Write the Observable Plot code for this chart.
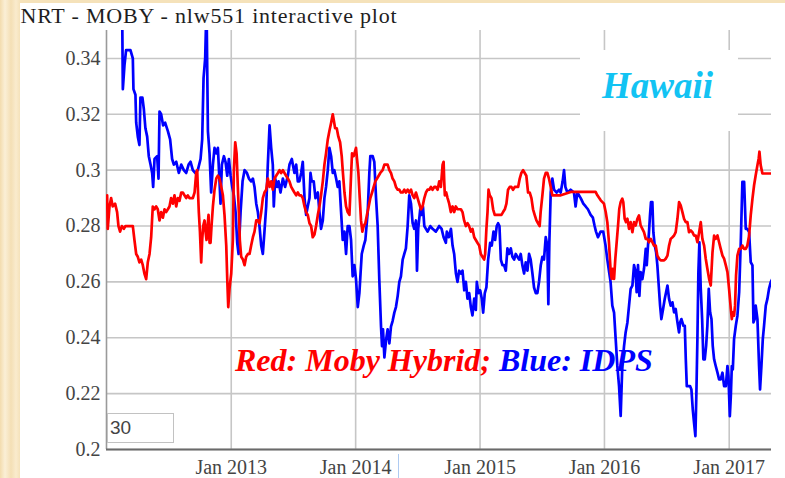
<!DOCTYPE html>
<html><head><meta charset="utf-8">
<script src="https://cdn.jsdelivr.net/npm/d3@7"></script>
<script src="https://cdn.jsdelivr.net/npm/@observablehq/plot@0.6"></script>
<style>
html,body{margin:0;padding:0;}
body{width:785px;height:478px;overflow:hidden;background:#f6e4bf;}
#wrap{position:relative;width:785px;height:478px;background:linear-gradient(90deg,#f3dcae 0,#fbefd6 5px,#f4dfb5 11px,#faebcd 16px,#f5e2ba 20px);}
#white{position:absolute;left:20px;top:3px;right:0;bottom:0;background:#fff;}
#chart{position:absolute;left:0;top:0;}
.ov{position:absolute;white-space:nowrap;line-height:1;}
.serif{font-family:"Liberation Serif","Tinos","Times New Roman","Times","DejaVu Serif",serif;}
#title{left:20.5px;top:4.5px;font-size:22px;color:#1e1e1e;letter-spacing:0.8px;}
#hbox{left:580px;top:50px;width:158px;height:81px;background:#fff;}
#hawaii{left:602px;top:67px;font-size:37px;font-style:italic;font-weight:bold;color:#12c3f3;}
#legend{left:235px;top:344px;font-size:32px;font-style:italic;font-weight:bold;}
#inbox{left:107px;top:413px;width:67px;height:30px;box-sizing:border-box;border:1.5px solid #c2c2c2;background:#fff;}
#intext{left:110px;top:418px;font-size:19px;font-family:"Liberation Sans",Arial,"DejaVu Sans",sans-serif;color:#444;}
#cursor{left:398px;top:454px;width:1px;height:24px;background:#aecbf2;}
</style>
</head><body>
<div id="wrap">
  <div id="white"></div>
  <div id="chart"></div>
  <div class="ov serif" id="title">NRT - MOBY - nlw551 interactive plot</div>
  <div class="ov" id="hbox"></div>
  <div class="ov serif" id="hawaii">Hawaii</div>
  <div class="ov serif" id="legend"><span style="color:#ff0000">Red: Moby Hybrid;</span> <span style="color:#0000ff">Blue: IDPS</span></div>
  <div class="ov" id="inbox"></div>
  <div class="ov" id="intext">30</div>
  <div class="ov" id="cursor"></div>
</div>
<script>
// decimal-year, value pairs
const idpsSeries = [[2012.125,0.36],[2012.131,0.329],[2012.144,0.3375],[2012.157,0.343],[2012.192,0.343],[2012.211,0.340],[2012.216,0.329],[2012.232,0.327],[2012.238,0.317],[2012.251,0.312],[2012.264,0.309],[2012.272,0.326],[2012.288,0.326],[2012.299,0.322],[2012.312,0.315],[2012.326,0.312],[2012.339,0.305],[2012.353,0.302],[2012.366,0.299],[2012.374,0.294],[2012.385,0.304],[2012.406,0.305],[2012.417,0.297],[2012.425,0.321],[2012.438,0.320],[2012.454,0.316],[2012.470,0.317],[2012.492,0.314],[2012.510,0.311],[2012.526,0.304],[2012.540,0.302],[2012.559,0.303],[2012.580,0.299],[2012.599,0.302],[2012.620,0.300],[2012.639,0.299],[2012.658,0.302],[2012.674,0.303],[2012.692,0.300],[2012.711,0.299],[2012.732,0.300],[2012.754,0.304],[2012.767,0.311],[2012.778,0.333],[2012.791,0.340],[2012.802,0.36],[2012.807,0.338],[2012.813,0.314],[2012.826,0.306],[2012.839,0.292],[2012.853,0.302],[2012.866,0.308],[2012.880,0.306],[2012.893,0.308],[2012.906,0.296],[2012.914,0.288],[2012.925,0.302],[2012.941,0.305],[2012.954,0.303],[2012.968,0.298],[2012.981,0.304],[2012.995,0.298],[2013.008,0.294],[2013.021,0.291],[2013.035,0.285],[2013.048,0.274],[2013.059,0.270],[2013.075,0.285],[2013.091,0.296],[2013.107,0.300],[2013.126,0.299],[2013.142,0.297],[2013.160,0.296],[2013.174,0.297],[2013.187,0.294],[2013.201,0.288],[2013.214,0.285],[2013.227,0.280],[2013.241,0.273],[2013.254,0.270],[2013.267,0.278],[2013.281,0.287],[2013.294,0.302],[2013.308,0.316],[2013.321,0.308],[2013.334,0.302],[2013.342,0.287],[2013.353,0.297],[2013.369,0.294],[2013.380,0.296],[2013.396,0.292],[2013.415,0.297],[2013.433,0.294],[2013.455,0.298],[2013.468,0.302],[2013.487,0.304],[2013.495,0.302],[2013.508,0.299],[2013.522,0.302],[2013.535,0.296],[2013.548,0.296],[2013.562,0.299],[2013.575,0.303],[2013.589,0.290],[2013.602,0.284],[2013.615,0.287],[2013.629,0.290],[2013.637,0.299],[2013.647,0.296],[2013.663,0.296],[2013.677,0.290],[2013.696,0.292],[2013.709,0.285],[2013.722,0.279],[2013.736,0.282],[2013.749,0.290],[2013.762,0.294],[2013.776,0.300],[2013.789,0.308],[2013.803,0.305],[2013.816,0.299],[2013.829,0.300],[2013.843,0.297],[2013.856,0.294],[2013.869,0.296],[2013.883,0.285],[2013.896,0.275],[2013.910,0.278],[2013.923,0.270],[2013.936,0.280],[2013.950,0.280],[2013.963,0.275],[2013.976,0.262],[2013.990,0.266],[2014.003,0.261],[2014.017,0.251],[2014.030,0.256],[2014.038,0.262],[2014.049,0.270],[2014.065,0.273],[2014.078,0.275],[2014.097,0.285],[2014.110,0.299],[2014.118,0.305],[2014.137,0.305],[2014.150,0.303],[2014.164,0.290],[2014.177,0.280],[2014.190,0.261],[2014.204,0.244],[2014.212,0.237],[2014.220,0.243],[2014.231,0.233],[2014.244,0.239],[2014.257,0.243],[2014.271,0.238],[2014.284,0.244],[2014.297,0.246],[2014.311,0.249],[2014.324,0.251],[2014.338,0.255],[2014.351,0.260],[2014.364,0.262],[2014.378,0.268],[2014.391,0.270],[2014.404,0.272],[2014.418,0.280],[2014.431,0.291],[2014.445,0.288],[2014.458,0.281],[2014.471,0.279],[2014.485,0.282],[2014.493,0.264],[2014.503,0.279],[2014.519,0.286],[2014.530,0.284],[2014.541,0.287],[2014.552,0.280],[2014.565,0.279],[2014.578,0.278],[2014.600,0.280],[2014.618,0.279],[2014.645,0.278],[2014.672,0.280],[2014.691,0.279],[2014.707,0.276],[2014.725,0.274],[2014.733,0.278],[2014.749,0.276],[2014.766,0.279],[2014.779,0.273],[2014.792,0.270],[2014.806,0.263],[2014.819,0.260],[2014.832,0.264],[2014.846,0.263],[2014.859,0.264],[2014.873,0.257],[2014.886,0.260],[2014.899,0.254],[2014.913,0.256],[2014.926,0.251],[2014.939,0.248],[2014.953,0.254],[2014.966,0.250],[2014.974,0.260],[2014.987,0.256],[2015.001,0.257],[2015.014,0.254],[2015.025,0.249],[2015.038,0.256],[2015.051,0.258],[2015.065,0.268],[2015.081,0.274],[2015.094,0.273],[2015.108,0.278],[2015.121,0.275],[2015.134,0.280],[2015.145,0.281],[2015.156,0.280],[2015.167,0.268],[2015.180,0.266],[2015.193,0.266],[2015.207,0.264],[2015.220,0.272],[2015.233,0.270],[2015.247,0.272],[2015.260,0.269],[2015.274,0.268],[2015.287,0.270],[2015.300,0.269],[2015.314,0.268],[2015.327,0.270],[2015.340,0.266],[2015.354,0.263],[2015.367,0.267],[2015.381,0.264],[2015.394,0.270],[2015.407,0.268],[2015.421,0.263],[2015.434,0.258],[2015.448,0.256],[2015.461,0.256],[2015.474,0.260],[2015.488,0.266],[2015.501,0.269],[2015.514,0.268],[2015.528,0.276],[2015.541,0.273],[2015.549,0.252],[2015.557,0.274],[2015.568,0.292],[2015.581,0.297],[2015.595,0.293],[2015.616,0.292],[2015.635,0.293],[2015.648,0.292],[2015.664,0.296],[2015.675,0.300],[2015.686,0.294],[2015.702,0.292],[2015.728,0.293],[2015.755,0.292],[2015.768,0.287],[2015.782,0.292],[2015.809,0.290],[2015.830,0.288],[2015.849,0.287],[2015.867,0.286],[2015.889,0.284],[2015.907,0.283],[2015.921,0.280],[2015.932,0.278],[2015.948,0.276],[2015.969,0.278],[2015.990,0.278],[2016.009,0.273],[2016.023,0.268],[2016.036,0.264],[2016.049,0.260],[2016.063,0.2515],[2016.077,0.249],[2016.090,0.2395],[2016.103,0.230],[2016.117,0.2227],[2016.130,0.212],[2016.143,0.230],[2016.157,0.237],[2016.170,0.242],[2016.184,0.2455],[2016.197,0.2515],[2016.210,0.2575],[2016.224,0.2587],[2016.237,0.266],[2016.250,0.2635],[2016.258,0.2563],[2016.269,0.266],[2016.280,0.255],[2016.290,0.2635],[2016.304,0.261],[2016.317,0.2647],[2016.331,0.2718],[2016.339,0.266],[2016.349,0.273],[2016.357,0.2778],[2016.365,0.2838],[2016.373,0.2886],[2016.384,0.2886],[2016.392,0.2778],[2016.403,0.273],[2016.414,0.2706],[2016.424,0.266],[2016.435,0.2587],[2016.446,0.2515],[2016.456,0.2467],[2016.470,0.2503],[2016.483,0.2539],[2016.494,0.2563],[2016.505,0.2587],[2016.518,0.2539],[2016.531,0.2515],[2016.545,0.2527],[2016.558,0.2491],[2016.571,0.2503],[2016.585,0.2455],[2016.598,0.2419],[2016.606,0.2455],[2016.617,0.2467],[2016.633,0.2443],[2016.644,0.2443],[2016.652,0.2323],[2016.660,0.2227],[2016.686,0.2227],[2016.697,0.2215],[2016.708,0.2143],[2016.718,0.2096],[2016.729,0.2048],[2016.737,0.2203],[2016.745,0.2395],[2016.753,0.2635],[2016.761,0.2742],[2016.772,0.2575],[2016.783,0.2467],[2016.793,0.2323],[2016.804,0.2323],[2016.815,0.2371],[2016.825,0.2443],[2016.836,0.2575],[2016.847,0.2491],[2016.858,0.2467],[2016.868,0.2371],[2016.879,0.2323],[2016.892,0.2299],[2016.906,0.2275],[2016.919,0.2251],[2016.932,0.2251],[2016.946,0.2275],[2016.959,0.2227],[2016.973,0.2227],[2016.986,0.2299],[2016.994,0.2263],[2017.005,0.2119],[2017.013,0.2191],[2017.021,0.2299],[2017.029,0.2287],[2017.039,0.2395],[2017.053,0.2443],[2017.066,0.2479],[2017.080,0.2563],[2017.093,0.2742],[2017.106,0.2958],[2017.120,0.2958],[2017.133,0.279],[2017.146,0.279],[2017.160,0.2778],[2017.173,0.2671],[2017.187,0.2659],[2017.195,0.2455],[2017.205,0.2467],[2017.213,0.2515],[2017.227,0.2467],[2017.240,0.2299],[2017.248,0.2215],[2017.259,0.2299],[2017.270,0.2395],[2017.280,0.2443],[2017.294,0.2515],[2017.307,0.2539],[2017.320,0.2575],[2017.334,0.2599],[2017.347,0.2611]];

const mobySeries = [[2012.005,0.291],[2012.010,0.279],[2012.024,0.287],[2012.037,0.290],[2012.050,0.287],[2012.069,0.288],[2012.085,0.285],[2012.096,0.280],[2012.109,0.278],[2012.123,0.280],[2012.139,0.279],[2012.152,0.280],[2012.171,0.280],[2012.192,0.280],[2012.211,0.280],[2012.224,0.275],[2012.238,0.270],[2012.251,0.269],[2012.264,0.267],[2012.278,0.268],[2012.291,0.266],[2012.304,0.263],[2012.318,0.261],[2012.331,0.267],[2012.345,0.270],[2012.358,0.276],[2012.371,0.287],[2012.385,0.286],[2012.398,0.287],[2012.411,0.286],[2012.425,0.282],[2012.438,0.285],[2012.452,0.283],[2012.465,0.286],[2012.478,0.285],[2012.492,0.286],[2012.505,0.287],[2012.518,0.290],[2012.532,0.288],[2012.545,0.291],[2012.559,0.287],[2012.572,0.290],[2012.585,0.289],[2012.599,0.292],[2012.612,0.292],[2012.625,0.291],[2012.639,0.290],[2012.652,0.291],[2012.665,0.290],[2012.679,0.290],[2012.692,0.290],[2012.706,0.292],[2012.719,0.299],[2012.727,0.300],[2012.732,0.294],[2012.740,0.285],[2012.749,0.278],[2012.759,0.267],[2012.767,0.275],[2012.775,0.280],[2012.786,0.282],[2012.794,0.278],[2012.802,0.275],[2012.810,0.280],[2012.818,0.284],[2012.826,0.274],[2012.834,0.274],[2012.842,0.280],[2012.853,0.287],[2012.866,0.293],[2012.880,0.297],[2012.893,0.298],[2012.906,0.297],[2012.920,0.294],[2012.933,0.291],[2012.946,0.284],[2012.960,0.273],[2012.968,0.261],[2012.976,0.251],[2012.987,0.258],[2013.000,0.263],[2013.013,0.275],[2013.021,0.300],[2013.032,0.310],[2013.043,0.306],[2013.053,0.294],[2013.061,0.285],[2013.069,0.275],[2013.080,0.269],[2013.094,0.268],[2013.107,0.266],[2013.120,0.269],[2013.134,0.270],[2013.147,0.270],[2013.160,0.273],[2013.174,0.276],[2013.187,0.278],[2013.201,0.282],[2013.214,0.282],[2013.227,0.281],[2013.241,0.285],[2013.254,0.290],[2013.267,0.292],[2013.281,0.293],[2013.294,0.297],[2013.308,0.294],[2013.321,0.296],[2013.334,0.293],[2013.348,0.297],[2013.361,0.298],[2013.375,0.299],[2013.388,0.300],[2013.401,0.299],[2013.415,0.300],[2013.428,0.299],[2013.441,0.298],[2013.455,0.297],[2013.468,0.296],[2013.482,0.294],[2013.495,0.293],[2013.508,0.292],[2013.522,0.291],[2013.535,0.292],[2013.548,0.291],[2013.562,0.291],[2013.575,0.290],[2013.589,0.287],[2013.602,0.285],[2013.615,0.284],[2013.629,0.281],[2013.642,0.280],[2013.655,0.276],[2013.669,0.277],[2013.682,0.280],[2013.696,0.284],[2013.709,0.287],[2013.722,0.291],[2013.736,0.296],[2013.749,0.302],[2013.762,0.306],[2013.776,0.311],[2013.789,0.314],[2013.803,0.317],[2013.816,0.320],[2013.824,0.318],[2013.835,0.315],[2013.848,0.315],[2013.861,0.312],[2013.875,0.310],[2013.888,0.305],[2013.896,0.300],[2013.910,0.292],[2013.923,0.287],[2013.936,0.285],[2013.950,0.284],[2013.963,0.298],[2013.971,0.306],[2013.984,0.305],[2014.003,0.308],[2014.011,0.304],[2014.022,0.299],[2014.033,0.290],[2014.043,0.282],[2014.054,0.278],[2014.065,0.280],[2014.078,0.281],[2014.091,0.284],[2014.105,0.287],[2014.118,0.290],[2014.132,0.292],[2014.145,0.294],[2014.158,0.296],[2014.172,0.297],[2014.185,0.298],[2014.198,0.299],[2014.217,0.300],[2014.231,0.302],[2014.244,0.302],[2014.257,0.302],[2014.271,0.300],[2014.284,0.299],[2014.297,0.297],[2014.311,0.296],[2014.324,0.294],[2014.338,0.293],[2014.351,0.293],[2014.364,0.292],[2014.378,0.292],[2014.391,0.293],[2014.404,0.292],[2014.418,0.293],[2014.431,0.292],[2014.445,0.293],[2014.458,0.291],[2014.471,0.290],[2014.485,0.292],[2014.498,0.290],[2014.511,0.288],[2014.525,0.286],[2014.538,0.287],[2014.552,0.290],[2014.565,0.292],[2014.578,0.293],[2014.592,0.293],[2014.605,0.294],[2014.618,0.293],[2014.632,0.294],[2014.645,0.294],[2014.659,0.293],[2014.672,0.296],[2014.685,0.294],[2014.699,0.302],[2014.707,0.303],[2014.712,0.296],[2014.717,0.291],[2014.728,0.292],[2014.739,0.290],[2014.752,0.288],[2014.765,0.285],[2014.779,0.287],[2014.792,0.285],[2014.805,0.287],[2014.819,0.286],[2014.832,0.286],[2014.846,0.286],[2014.859,0.285],[2014.872,0.282],[2014.886,0.280],[2014.899,0.281],[2014.912,0.280],[2014.926,0.278],[2014.939,0.279],[2014.953,0.276],[2014.966,0.275],[2014.979,0.274],[2014.993,0.273],[2015.006,0.270],[2015.019,0.269],[2015.033,0.268],[2015.041,0.270],[2015.051,0.279],[2015.060,0.285],[2015.068,0.293],[2015.078,0.291],[2015.092,0.290],[2015.105,0.286],[2015.118,0.284],[2015.132,0.284],[2015.145,0.284],[2015.158,0.284],[2015.172,0.284],[2015.185,0.285],[2015.199,0.286],[2015.212,0.288],[2015.225,0.293],[2015.239,0.294],[2015.252,0.294],[2015.265,0.293],[2015.279,0.294],[2015.292,0.294],[2015.306,0.294],[2015.319,0.297],[2015.332,0.299],[2015.346,0.300],[2015.359,0.299],[2015.372,0.298],[2015.386,0.292],[2015.399,0.292],[2015.413,0.290],[2015.426,0.286],[2015.439,0.284],[2015.453,0.282],[2015.466,0.281],[2015.479,0.280],[2015.487,0.285],[2015.501,0.291],[2015.514,0.297],[2015.528,0.299],[2015.541,0.299],[2015.554,0.297],[2015.568,0.294],[2015.581,0.291],[2015.595,0.291],[2015.649,0.291],[2015.729,0.2922],[2015.809,0.2922],[2015.889,0.2922],[2015.929,0.2922],[2015.943,0.291],[2015.970,0.2892],[2015.996,0.288],[2016.010,0.285],[2016.023,0.2814],[2016.036,0.2742],[2016.050,0.2635],[2016.058,0.2611],[2016.066,0.2647],[2016.077,0.2611],[2016.087,0.2683],[2016.098,0.2742],[2016.109,0.2802],[2016.119,0.2862],[2016.130,0.2886],[2016.143,0.2898],[2016.151,0.2886],[2016.162,0.2826],[2016.173,0.2814],[2016.184,0.2826],[2016.197,0.2790],[2016.210,0.2814],[2016.224,0.2778],[2016.237,0.2814],[2016.250,0.2802],[2016.264,0.2826],[2016.277,0.2838],[2016.290,0.2802],[2016.304,0.2790],[2016.317,0.2778],[2016.331,0.2754],[2016.344,0.2754],[2016.357,0.2742],[2016.371,0.2754],[2016.384,0.2742],[2016.397,0.2730],[2016.411,0.2730],[2016.424,0.2694],[2016.438,0.2683],[2016.451,0.2677],[2016.478,0.2677],[2016.491,0.2683],[2016.505,0.2694],[2016.518,0.2730],[2016.531,0.2754],[2016.545,0.2760],[2016.558,0.2766],[2016.571,0.2778],[2016.585,0.2826],[2016.598,0.2886],[2016.611,0.2874],[2016.625,0.2850],[2016.638,0.2826],[2016.652,0.2814],[2016.665,0.2814],[2016.678,0.2778],[2016.692,0.2784],[2016.705,0.2778],[2016.718,0.2766],[2016.732,0.2766],[2016.745,0.2742],[2016.759,0.2778],[2016.772,0.2814],[2016.785,0.2754],[2016.799,0.2730],[2016.812,0.2683],[2016.825,0.2647],[2016.839,0.2611],[2016.852,0.2587],[2016.866,0.2706],[2016.879,0.2766],[2016.892,0.2754],[2016.906,0.2766],[2016.919,0.2742],[2016.932,0.2718],[2016.946,0.2694],[2016.959,0.2683],[2016.973,0.2659],[2016.986,0.2635],[2016.999,0.2575],[2017.013,0.2503],[2017.021,0.2467],[2017.029,0.2491],[2017.039,0.2479],[2017.047,0.2515],[2017.055,0.2623],[2017.066,0.2694],[2017.080,0.2718],[2017.093,0.2718],[2017.106,0.2730],[2017.120,0.2718],[2017.133,0.2718],[2017.146,0.2730],[2017.160,0.2766],[2017.173,0.2838],[2017.187,0.2898],[2017.200,0.2946],[2017.213,0.2982],[2017.227,0.3018],[2017.237,0.3042],[2017.243,0.3066],[2017.253,0.3018],[2017.267,0.2988],[2017.307,0.2988],[2017.347,0.2988]];

const yTicks = [0.2, 0.22, 0.24, 0.26, 0.28, 0.3, 0.32, 0.34];
const xTickYears = [2013, 2014, 2015, 2016, 2017];
const xStartYear = 2012.0, xEndYear = 2017.34;
const yMin = 0.2, yMax = 0.35;

const toDate = y => {
  const yr = Math.floor(y);
  const s = Date.UTC(yr, 0, 1), e = Date.UTC(yr + 1, 0, 1);
  return new Date(s + (y - yr) * (e - s));
};
const idps = idpsSeries.map(([t, v]) => ({date: toDate(t), value: v}));
const moby = mobySeries.map(([t, v]) => ({date: toDate(t), value: v}));
const xTicks = xTickYears.map(y => new Date(Date.UTC(y, 0, 1)));

const chart = Plot.plot({
  width: 785,
  height: 478,
  marginLeft: 106,
  marginRight: 14,
  marginTop: 30,
  marginBottom: 29,
  style: {background: "transparent", fontFamily: "\"Liberation Serif\",\"Tinos\",\"Times New Roman\",\"DejaVu Serif\",serif", fontSize: "20px", color: "#444", overflow: "visible"},
  x: {type: "utc", domain: [toDate(xStartYear), toDate(xEndYear)]},
  y: {domain: [yMin, yMax]},
  marks: [
    Plot.gridY(yTicks, {stroke: "#c6c6c6", strokeOpacity: 1, strokeWidth: 1.6}),
    Plot.gridX(xTicks, {stroke: "#c6c6c6", strokeOpacity: 1, strokeWidth: 1.6}),
    Plot.axisY(yTicks, {tickSize: 0, tickPadding: 6, tickFormat: d => String(d), label: null, fontSize: 20}),
    Plot.axisX(xTicks, {tickSize: 0, tickPadding: 10, tickFormat: d3.utcFormat("%b %Y"), label: null, fontSize: 20}),
    Plot.ruleX([toDate(xStartYear)], {stroke: "#9a9a9a", strokeWidth: 1.6}),
    Plot.ruleY([yMin], {stroke: "#6a6a6a", strokeWidth: 2}),
    Plot.line(idps, {x: "date", y: "value", stroke: "#0000ff", strokeWidth: 2.7, clip: true}),
    Plot.line(moby, {x: "date", y: "value", stroke: "#ff0000", strokeWidth: 2.7, clip: true})
  ]
});
document.getElementById("chart").append(chart);
</script>
</body></html>
